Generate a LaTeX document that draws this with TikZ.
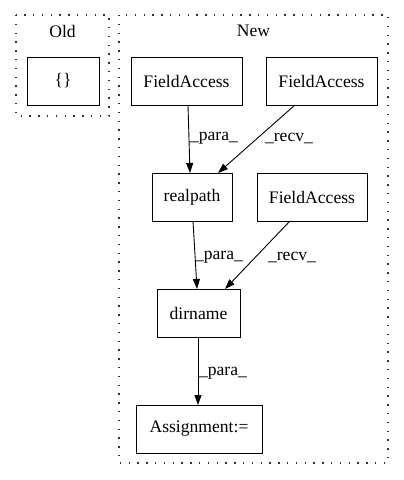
\documentclass[tikz,border=0pt]{standalone}
\usepackage{fontspec}
\setmainfont{Liberation Serif}
\usetikzlibrary{arrows.meta}
\begin{document}
\begin{tikzpicture}[x=1pt,y=-1pt,
  box/.style={draw=black,line width=0.9pt,rectangle,inner sep=0pt,font=\fontsize{17.6}{20}\selectfont},
  cluster/.style={draw=black!80,line width=1.4pt,dash pattern=on 1.4pt off 7.4pt},
  lbl/.style={font=\fontsize{17.6}{20}\selectfont,inner sep=0pt},
  edge/.style={line width=0.9pt,-{Triangle[length=10pt,width=7pt]}}]
\useasboundingbox (0,0) rectangle (404,480);
\draw[cluster] (16,15) rectangle (109,116);
\draw[cluster] (119,15) rectangle (388,463);
\node[lbl] (oldlbl) at (62.5,31) {Old};
\node[lbl] (newlbl) at (253.5,31) {New};
\node[box,minimum width=72pt,minimum height=48pt] (old) at (63,81) {\{\}};
\node[box,minimum width=111pt,minimum height=48pt] (fa1) at (186.5,81) {FieldAccess};
\node[box,minimum width=111pt,minimum height=48pt] (fa2) at (321.5,81) {FieldAccess};
\node[box,minimum width=80pt,minimum height=48pt] (rp) at (192,197) {realpath};
\node[box,minimum width=110pt,minimum height=48pt] (fa3) at (312,197) {FieldAccess};
\node[box,minimum width=83pt,minimum height=48pt] (dn) at (198.5,313) {dirname};
\node[box,minimum width=126pt,minimum height=48pt] (as) at (199,429) {Assignment:=};
\draw[edge] (188,105) -- (190,173);
\draw[edge] (295,105) -- (218,173);
\draw[edge] (193,221) -- (197,289);
\draw[edge] (290,221) -- (225,289);
\draw[edge] (198,337) -- (198,405);
\node[lbl] (l1) at (214,138) {\_para\_};
\node[lbl] (l2) at (289,138) {\_recv\_};
\node[lbl] (l3) at (219,257) {\_para\_};
\node[lbl] (l4) at (292,257) {\_recv\_};
\node[lbl] (l5) at (223,373) {\_para\_};
\end{tikzpicture}
\end{document}
